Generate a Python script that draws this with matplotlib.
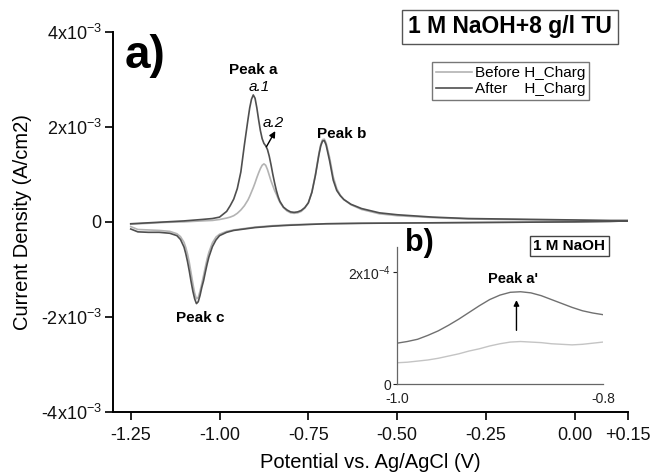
import matplotlib
matplotlib.use("Agg")

import matplotlib.pyplot as plt
import numpy as np


# ============================================================
# DATA  (main currents in mA/cm2, inset currents in 1e-4 A/cm2)
# ============================================================

pot_fwd = [
    -1.25, -1.20, -1.15, -1.10, -1.05, -1.02, -1.00, -0.98, -0.97, -0.96,
    -0.95, -0.94, -0.93, -0.92, -0.915, -0.91, -0.905, -0.90, -0.895, -0.89,
    -0.885, -0.88, -0.875, -0.87, -0.865, -0.86, -0.855, -0.85, -0.845, -0.84,
    -0.835, -0.83, -0.82, -0.81, -0.80, -0.79, -0.78, -0.77, -0.76, -0.75,
    -0.74, -0.73, -0.72, -0.715, -0.71, -0.705, -0.70, -0.69, -0.68, -0.67,
    -0.66, -0.65, -0.63, -0.60, -0.55, -0.50, -0.40, -0.30, -0.20, -0.10,
    0.00, 0.10, 0.15
]

after_fwd = [
    -0.04, -0.02, 0.00, 0.02, 0.05, 0.07, 0.10, 0.22, 0.34, 0.48,
    0.70, 1.05, 1.62, 2.15, 2.40, 2.58, 2.67, 2.60, 2.40, 2.15,
    1.92, 1.75, 1.65, 1.60, 1.52, 1.38, 1.20, 1.00, 0.82, 0.66,
    0.53, 0.43, 0.31, 0.25, 0.21, 0.20, 0.21, 0.24, 0.30, 0.40,
    0.62, 0.98, 1.42, 1.60, 1.70, 1.71, 1.62, 1.28, 0.88, 0.66,
    0.55, 0.47, 0.37, 0.28, 0.19, 0.15, 0.10, 0.07, 0.06, 0.05,
    0.04, 0.03, 0.03
]

before_fwd = [
    -0.05, -0.03, -0.01, 0.00, 0.02, 0.03, 0.05, 0.08, 0.10, 0.13,
    0.18, 0.25, 0.34, 0.46, 0.54, 0.63, 0.72, 0.82, 0.93, 1.03,
    1.12, 1.19, 1.22, 1.19, 1.10, 0.98, 0.86, 0.76, 0.66, 0.58,
    0.49, 0.41, 0.30, 0.23, 0.19, 0.18, 0.19, 0.22, 0.29, 0.40,
    0.63, 1.00, 1.45, 1.63, 1.73, 1.74, 1.66, 1.35, 0.95, 0.70,
    0.56, 0.47, 0.36, 0.26, 0.17, 0.13, 0.09, 0.06, 0.05, 0.04,
    0.03, 0.02, 0.02
]

pot_rev = [
    0.15, 0.10, 0.00, -0.20, -0.40, -0.60, -0.70, -0.80, -0.85, -0.90,
    -0.93, -0.96, -0.98, -1.00, -1.01, -1.02, -1.03, -1.035, -1.04, -1.045,
    -1.05, -1.055, -1.06, -1.065, -1.07, -1.075, -1.08, -1.085, -1.09, -1.095,
    -1.10, -1.11, -1.12, -1.14, -1.17, -1.20, -1.23, -1.25
]

after_rev = [
    0.02, 0.01, 0.00, -0.01, -0.02, -0.03, -0.04, -0.07, -0.09, -0.12,
    -0.15, -0.18, -0.22, -0.29, -0.38, -0.52, -0.74, -0.89, -1.06, -1.24,
    -1.38, -1.55, -1.68, -1.72, -1.62, -1.46, -1.26, -1.04, -0.84, -0.67,
    -0.53, -0.37, -0.29, -0.24, -0.22, -0.22, -0.21, -0.15
]

before_rev = [
    0.02, 0.01, 0.00, -0.01, -0.02, -0.03, -0.04, -0.06, -0.08, -0.11,
    -0.14, -0.17, -0.20, -0.26, -0.32, -0.44, -0.64, -0.78, -0.95, -1.13,
    -1.30, -1.46, -1.59, -1.62, -1.50, -1.30, -1.08, -0.86, -0.68, -0.54,
    -0.43, -0.31, -0.25, -0.20, -0.18, -0.17, -0.16, -0.10
]

inset_pot = [
    -1.00, -0.99, -0.98, -0.97, -0.96, -0.95, -0.94, -0.93, -0.92, -0.91,
    -0.90, -0.89, -0.88, -0.87, -0.86, -0.85, -0.84, -0.83, -0.82, -0.81,
    -0.80
]

inset_after = [
    0.73, 0.76, 0.80, 0.87, 0.95, 1.05, 1.16, 1.28, 1.40, 1.51,
    1.59, 1.64, 1.65, 1.63, 1.58, 1.51, 1.44, 1.37, 1.31, 1.27,
    1.24
]

inset_before = [
    0.38, 0.39, 0.41, 0.43, 0.46, 0.50, 0.54, 0.59, 0.63, 0.68,
    0.72, 0.75, 0.76, 0.75, 0.74, 0.72, 0.71, 0.70, 0.71, 0.73,
    0.75
]

x_ticks = [-1.25, -1.00, -0.75, -0.50, -0.25, 0.00, 0.15]
x_tick_labels = ["-1.25", "-1.00", "-0.75", "-0.50", "-0.25", "0.00", "+0.15"]

y_ticks = [-4e-3, -2e-3, 0, 2e-3, 4e-3]
y_tick_labels = [
    r"-4x10$^{\mathregular{-3}}$",
    r"-2x10$^{\mathregular{-3}}$",
    "0",
    r"2x10$^{\mathregular{-3}}$",
    r"4x10$^{\mathregular{-3}}$",
]

COLOR_BEFORE = "#b3b3b3"
COLOR_AFTER = "#4f4f4f"

plt.rcParams["font.family"] = ["Liberation Sans", "DejaVu Sans"]

# ============================================================
# MAIN PLOT
# ============================================================

fig = plt.figure(figsize=(6.58, 4.72), dpi=100)

ax = fig.add_axes([0.1717, 0.1271, 0.7827, 0.8057])

before_x = np.array(pot_fwd + pot_rev)
before_y = np.array(before_fwd + before_rev) * 1e-3
after_x = np.array(pot_fwd + pot_rev)
after_y = np.array(after_fwd + after_rev) * 1e-3

ax.plot(before_x, before_y, color=COLOR_BEFORE, lw=1.2,
        label="Before H_Charg")
ax.plot(after_x, after_y, color=COLOR_AFTER, lw=1.2,
        label="After    H_Charg")

ax.set_xlim(-1.30, 0.15)
ax.set_ylim(-4e-3, 4e-3)

ax.set_xticks(x_ticks)
ax.set_xticklabels(x_tick_labels)
ax.set_yticks(y_ticks)
ax.set_yticklabels(y_tick_labels)

ax.spines["top"].set_visible(False)
ax.spines["right"].set_visible(False)
ax.spines["left"].set_linewidth(1.4)
ax.spines["bottom"].set_linewidth(1.4)

ax.tick_params(direction="out", length=6, width=1.3, labelsize=13,
               colors="#111111")
ax.tick_params(axis="x", pad=5)
ax.tick_params(axis="y", pad=2)

ax.set_xlabel("Potential vs. Ag/AgCl (V)", fontsize=14.5, labelpad=6)
ax.set_ylabel("Current Density (A/cm2)", fontsize=14.5, labelpad=6)

leg = ax.legend(
    loc="upper right",
    bbox_to_anchor=(0.924, 0.92),
    borderaxespad=0,
    fontsize=11,
    frameon=True,
    fancybox=False,
    handlelength=2.4,
    handletextpad=0.15,
    borderpad=0.25,
    labelspacing=0.15,
)
leg.get_frame().set_edgecolor("#555555")
leg.get_frame().set_linewidth(1.0)

# ============================================================
# ANNOTATIONS
# ============================================================

ax.text(0.023, 0.905, "a)", transform=ax.transAxes, fontsize=33,
        fontweight="bold", va="baseline", ha="left")

fig.text(0.775, 0.943, "1 M NaOH+8 g/l TU", fontsize=16.5,
         fontweight="bold", ha="center", va="center",
         bbox=dict(boxstyle="square,pad=0.25", fc="white", ec="#555555",
                   lw=1.0))

ax.text(-0.905, 3.12e-3, "Peak a", fontsize=11, fontweight="bold",
        ha="center", va="baseline")
ax.text(-0.888, 2.75e-3, "a.1", fontsize=11, style="italic",
        ha="center", va="baseline")
ax.text(-0.848, 2.0e-3, "a.2", fontsize=11, style="italic",
        ha="center", va="baseline")
ax.annotate("", xy=(-0.843, 1.91e-3), xytext=(-0.868, 1.58e-3),
            arrowprops=dict(arrowstyle="-|>", color="black", lw=1.0,
                            mutation_scale=9, shrinkA=0, shrinkB=0))
ax.text(-0.655, 1.76e-3, "Peak b", fontsize=11, fontweight="bold",
        ha="center", va="baseline")
ax.text(-1.053, -2.10e-3, "Peak c", fontsize=11, fontweight="bold",
        ha="center", va="baseline")

# ============================================================
# INSET
# ============================================================

ins = fig.add_axes([0.6033, 0.1864, 0.3131, 0.2903])
ins.patch.set_alpha(0)

ins.plot(inset_pot, np.array(inset_before) * 1e-4, color="#c4c4c4", lw=1.0)
ins.plot(inset_pot, np.array(inset_after) * 1e-4, color="#707070", lw=1.0)

ins.set_xlim(-1.0, -0.8)
ins.set_ylim(0, 2.45e-4)
ins.set_xticks([-1.0, -0.8])
ins.set_xticklabels(["-1.0", "-0.8"])
ins.set_yticks([0, 2e-4])
ins.set_yticklabels(["0", r"2x10$^{\mathregular{-4}}$"])

for side in ["top", "right"]:
    ins.spines[side].set_visible(False)
for side in ["left", "bottom"]:
    ins.spines[side].set_color("#666666")
    ins.spines[side].set_linewidth(0.9)

ins.tick_params(axis="y", direction="out", length=3, width=0.8,
                labelsize=10, pad=1, colors="#222222")
ins.tick_params(axis="x", direction="out", length=0, labelsize=10,
                pad=6, colors="#222222")

ins.annotate("", xy=(-0.884, 1.50e-4), xytext=(-0.884, 0.96e-4),
             arrowprops=dict(arrowstyle="-|>", color="black", lw=1.0,
                             mutation_scale=8, shrinkA=0, shrinkB=0))
ins.text(-0.887, 1.80e-4, "Peak a'", fontsize=10.5, fontweight="bold",
         ha="center", va="baseline")

fig.text(0.6155, 0.468, "b)", fontsize=22, fontweight="bold",
         ha="left", va="baseline")
fig.text(0.8655, 0.479, "1 M NaOH", fontsize=11, fontweight="bold",
         ha="center", va="center",
         bbox=dict(boxstyle="square,pad=0.2", fc="white", ec="#444444",
                   lw=1.0))

# ============================================================
# SAVE
# ============================================================

fig.savefig("out.png", dpi=100)
